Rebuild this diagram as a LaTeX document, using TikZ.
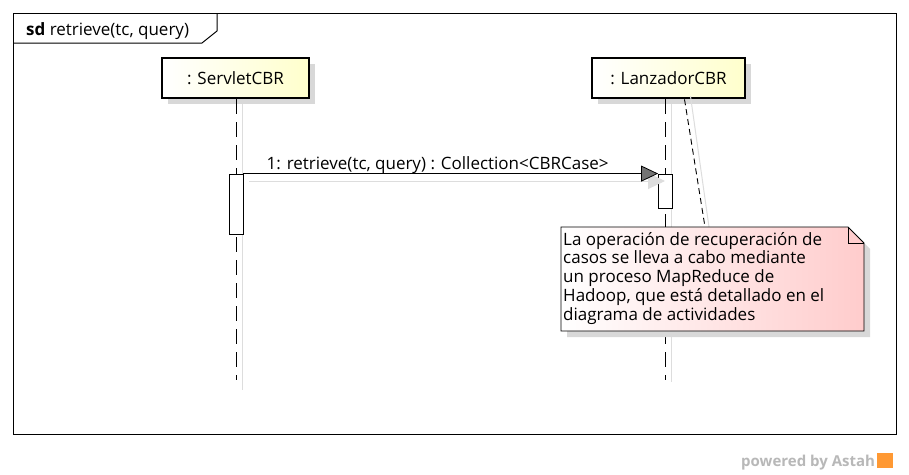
\documentclass[tikz,border=0pt]{standalone}
\usepackage{fontspec}
\setmainfont{Open Sans}
\usetikzlibrary{arrows.meta}
\definecolor{shadowgray}{HTML}{D8D8D8}
\definecolor{lifegray}{HTML}{DDDDDD}
\definecolor{classyellow}{HTML}{FFFFCC}
\definecolor{notepink}{HTML}{FFCCCC}
\definecolor{astahgray}{HTML}{B8B8B8}
\begin{document}
\begin{tikzpicture}[x=1pt,y=-1pt,
  font=\fontsize{17}{18.7}\selectfont,
  classbox/.style={draw=black, line width=2.6pt, left color=white, right color=classyellow,
    minimum height=40pt, inner sep=0pt},
  lifeline/.style={line width=1pt, dash pattern=on 15pt off 8pt},
  lifeshadow/.style={lifegray, line width=1pt},
  actbox/.style={draw=black, fill=white, line width=0.8pt, minimum width=14pt, inner sep=0pt},
  msgarrow/.style={line width=0.8pt, -{Triangle[length=17pt,width=16pt,fill=black!55]}},
  msgshadow/.style={lifegray, line width=1pt, -{Triangle[length=17pt,width=16pt,fill=lifegray]}},
  notelink/.style={line width=0.9pt, dash pattern=on 6pt off 4pt}]
\useasboundingbox (0,0) rectangle (909,474);
\fill[white] (0,0) rectangle (909,474);

% frame
\draw[line width=1pt] (13,13) rectangle (896,434);
\draw[line width=1pt] (13,43) -- (202,43) -- (217,31) -- (217,13);
\node[anchor=base west, inner sep=0pt] (title) at (26,35) {\textbf{sd} retrieve(tc, query)};

% shadows of the class boxes
\fill[shadowgray] (168,64) rectangle (315,104);
\fill[shadowgray] (598,64) rectangle (751,104);

% lifeline shadows
\draw[lifeshadow] (242,104) -- (242,390);
\draw[lifeshadow] (671,104) -- (671,382);

% class boxes
\node[classbox, minimum width=147pt] (servlet) at (235.5,78) {: ServletCBR};
\node[classbox, minimum width=153pt] (lanz) at (668.5,78) {: LanzadorCBR};

% lifelines
\coordinate (servletEnd) at (236,380);
\coordinate (lanzEnd) at (665,380);
\draw[lifeline] (servlet.south -| servletEnd) -- (servletEnd);
\draw[lifeline] (lanz.south -| lanzEnd) -- (lanzEnd);

% activations
\node[actbox, minimum height=60pt] (act1) at (236,204) {};
\node[actbox, minimum height=34pt] (act2) at (665.5,191) {};

% message
\draw[msgshadow] (249,181) -- (665,181);
\draw[msgarrow] (act1.north east) -- (act2.north west);
\node[anchor=base west, inner sep=0pt] (msglabel) at (266.5,169) {1: retrieve(tc, query) : Collection<CBRCase>};

% note connector
\coordinate (noteTop) at (705,227);
\coordinate (noteTopShadow) at (709,227);
\draw[lifeshadow] ([xshift=22pt,yshift=3pt]lanz.south) -- (noteTopShadow);
\draw[notelink] ([xshift=16pt]lanz.south) -- (noteTop);

% note
\fill[shadowgray] (567,233) -- (854,233) -- (870,249) -- (870,337) -- (567,337) -- cycle;
\shade[left color=white, right color=notepink] (561,227) -- (848,227) -- (864,243) -- (864,331) -- (561,331) -- cycle;
\draw[line width=0.9pt] (561,227) -- (848,227) -- (864,243) -- (864,331) -- (561,331) -- cycle;
\draw[line width=0.9pt] (848,227) -- (848,243) -- (864,243);
\node[anchor=base west, align=left, inner sep=0pt] (notetext) at (563,320)
  {La operación de recuperación de\\casos se lleva a cabo mediante\\un proceso MapReduce de\\Hadoop, que está detallado en el\\diagrama de actividades};

% watermark
\node[anchor=base west, inner sep=0pt, text=astahgray, font=\fontsize{15}{16}\selectfont\bfseries] (powered) at (741,466) {powered by Astah};
\fill[orange!80] (877,453) rectangle (893,468);
\end{tikzpicture}
\end{document}
